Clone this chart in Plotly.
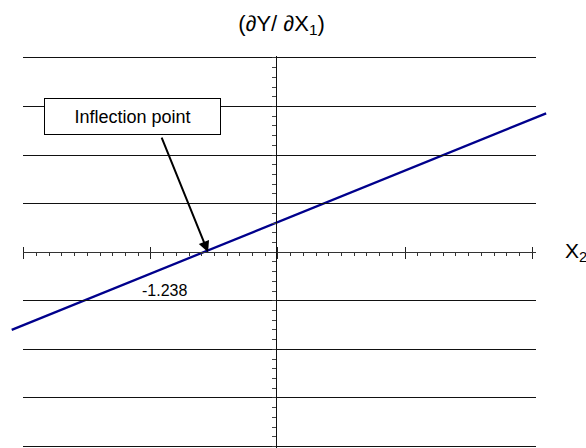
import plotly.graph_objects as go

# ---- data ----
line_x = [-4.40, 4.43]
line_y = [-1.60, 2.86]
inflection_x = -1.238
inflection_y = 0.0
inflection_label = "-1.238"
title_text = "(∂Y/ ∂X<sub>1</sub>)"
x_label = "X<sub>2</sub>"
note_text = "Inflection point"

FONT = "Liberation Sans, Arial, Helvetica, sans-serif"
W, H = 586, 448
ml, mr, mt, mb = 10, 38, 56, 0

fig = go.Figure()

# blue line on the wide subplot
fig.add_trace(go.Scatter(x=line_x, y=line_y, xaxis="x", yaxis="y2", mode="lines",
                         line=dict(color="#00008c", width=2.3), hoverinfo="skip",
                         showlegend=False))
# point of inflection on the framed subplot (invisible marker, carries axes)
fig.add_trace(go.Scatter(x=[inflection_x], y=[inflection_y], xaxis="x2", yaxis="y",
                         mode="markers", marker=dict(opacity=0), hoverinfo="skip",
                         showlegend=False))
fig.add_trace(go.Scatter(x=[inflection_x], y=[inflection_y], xaxis="x3", yaxis="y",
                         mode="markers", marker=dict(opacity=0), hoverinfo="skip",
                         showlegend=False))

narrow_dom = [0.02509, 0.97677]
narrow_rng = [-4.205, 4.255]
major = 2.1
minor = 0.21
y_rng = [-4.031, 4.041]
x_axis_pos = (0 - y_rng[0]) / (y_rng[1] - y_rng[0])

fig.update_layout(
    width=W, height=H,
    margin=dict(l=ml, r=mr, t=mt, b=mb),
    paper_bgcolor="white", plot_bgcolor="rgba(0,0,0,0)",
    font=dict(family=FONT, color="black"),
    showlegend=False,
    title=dict(text=title_text, x=281.5 / W, xref="container", xanchor="center",
               y=1 - 23 / H, yref="container", yanchor="middle",
               font=dict(size=22, family=FONT, color="black")),
    xaxis=dict(domain=[0, 1], range=[-4.428, 4.461], visible=False, anchor="y2",
               fixedrange=True),
    yaxis2=dict(domain=[0, 1], range=y_rng, visible=False, anchor="x",
                fixedrange=True),
    xaxis2=dict(domain=narrow_dom, range=narrow_rng, anchor="free", position=x_axis_pos,
                showline=True, linecolor="#333", linewidth=1,
                ticks="outside", ticklen=6, tickwidth=1, tickcolor="#222",
                tickmode="linear", tick0=0, dtick=major,
                showticklabels=False, showgrid=False, zeroline=False,
                minor=dict(ticks="outside", ticklen=3, tickcolor="#333",
                           tickmode="linear", tick0=0, dtick=minor, showgrid=False)),
    xaxis3=dict(overlaying="x2", side="top", range=narrow_rng, anchor="free",
                position=x_axis_pos, showline=False, ticks="outside", ticklen=5,
                tickcolor="#222", tickmode="linear", tick0=0, dtick=major,
                showticklabels=False, showgrid=False, zeroline=False),
    yaxis=dict(domain=[0, 1], range=y_rng, anchor="free",
               position=(276 - ml) / (W - ml - mr),
               showline=True, linecolor="#111", linewidth=1,
               ticks="outside", ticklen=4, tickcolor="#333",
               tickmode="linear", tick0=0, dtick=1,
               showticklabels=False, showgrid=True, gridcolor="#111", gridwidth=1,
               zeroline=False,
               minor=dict(ticks="outside", ticklen=4, tickcolor="#444",
                          tickmode="linear", tick0=0, dtick=0.2, showgrid=False)),
)

fig.add_annotation(text=note_text, xref="x2", yref="y", x=-2.396, y=2.789,
                   showarrow=False, font=dict(size=18, family=FONT, color="black"),
                   bordercolor="black", borderwidth=1, borderpad=2, bgcolor="white",
                   width=171, height=31, align="center", valign="middle")
fig.add_annotation(text="", xref="x2", yref="y", x=inflection_x, y=inflection_y,
                   showarrow=True, ax=-47, ay=-116, axref="pixel", ayref="pixel",
                   arrowhead=2, arrowsize=1.1, arrowwidth=2, arrowcolor="black",
                   xshift=5)
fig.add_annotation(text=inflection_label, xref="x2", yref="y", x=-1.867, y=-0.796,
                   showarrow=False, font=dict(size=16, family=FONT, color="black"))
fig.add_annotation(text=x_label, xref="paper", yref="y", x=(563 - ml) / (W - ml - mr),
                   y=0, xanchor="left", yanchor="middle", showarrow=False,
                   font=dict(size=21, family=FONT, color="black"))

fig.write_html("out.html",
               config={"displayModeBar": False, "staticPlot": True},
               post_script="document.body.style.margin='0';document.body.style.overflow='hidden';")
